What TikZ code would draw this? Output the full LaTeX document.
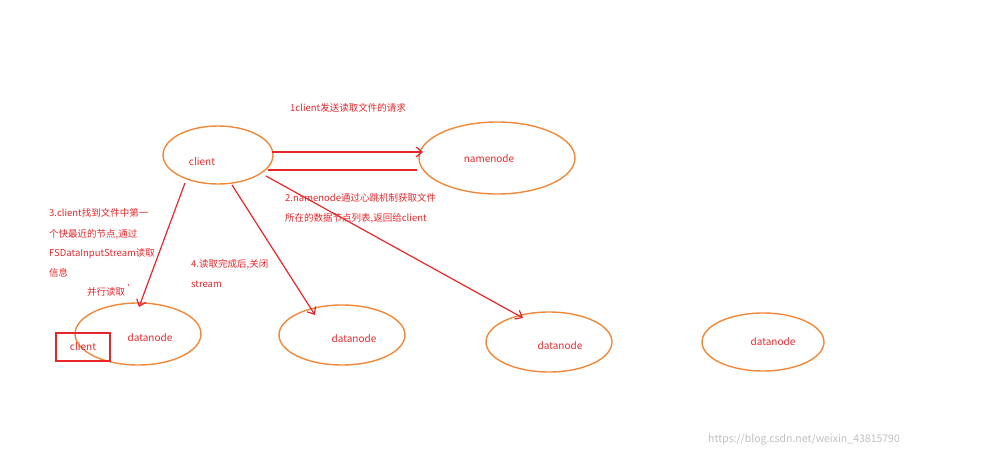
\documentclass[tikz,border=0pt]{standalone}
\usepackage{fontspec}
\setmainfont{Noto Sans CJK SC}
\usetikzlibrary{arrows.meta}
\definecolor{ored}{HTML}{E8262A}
\definecolor{oor}{HTML}{F0883A}
\tikzset{
  ell/.style={draw=oor,line width=1.4pt,ellipse},
  lbl/.style={text=ored,font=\fontsize{9.5}{11}\selectfont,anchor=west,inner sep=0pt},
  ntx/.style={text=ored,font=\fontsize{10}{12}\selectfont,inner sep=0pt},
  arr/.style={draw=ored,line width=1.2pt,-{Straight Barb[length=6pt,width=10pt]}},
  ln/.style={draw=ored,line width=1.4pt}
}
\begin{document}
\begin{tikzpicture}[x=1pt,y=-1pt]
\useasboundingbox (0,0) rectangle (990,458);
\draw[oor,line width=1.4pt] (218,155) ellipse (55 and 29);
\draw[oor,line width=1.4pt] (497,158) ellipse (78 and 36);
\draw[oor,line width=1.4pt] (138,334) ellipse (63 and 31);
\draw[oor,line width=1.4pt] (342,335) ellipse (63 and 30);
\draw[oor,line width=1.4pt] (549,342) ellipse (63 and 30);
\draw[oor,line width=1.4pt] (763,342) ellipse (61 and 29);
\node[ntx] (cl) at (202,162) {client};
\node[ntx] (nn) at (489,159) {namenode};
\node[ntx] (d1) at (150,338) {datanode};
\node[ntx] (d2) at (354,339) {datanode};
\node[ntx] (d3) at (560,346) {datanode};
\node[ntx] (d4) at (773,342) {datanode};
\node[draw=ored,line width=1.4pt,minimum width=54pt,minimum height=28pt,text=ored,font=\fontsize{10}{12}\selectfont] (cb) at (83,347) {client};
\coordinate (c1) at (272,152); \coordinate (n1) at (423,152);
\coordinate (n2) at (417,170); \coordinate (c2) at (268,170);
\coordinate (c3) at (266,176); \coordinate (d3t) at (523,318);
\coordinate (c4) at (185,183); \coordinate (d1t) at (139,307);
\coordinate (c5) at (232,185); \coordinate (d2t) at (315,315);
\draw[arr] (c1) -- (n1);
\draw[ln] (n2) -- (c2);
\draw[arr] (c3) -- (d3t);
\draw[arr] (c4) -- (d1t);
\draw[arr] (c5) -- (d2t);
\node[lbl] (t1) at (290,108) {1client发送读取文件的请求};
\node[lbl] (t2) at (285,198) {2.namenode通过心跳机制获取文件};
\node[lbl] (t2b) at (285,218) {所在的数据节点列表,返回给client};
\node[lbl] (t3) at (49,213) {3.client找到文件中第一};
\node[lbl] (t3b) at (49,234) {个快最近的节点,通过};
\node[lbl] (t3c) at (49,254) {FSDataInputStream读取};
\node[lbl] (t3d) at (49,273) {信息};
\node[lbl] (t5) at (87,290) {并行读取 \raisebox{3pt}{'}};
\node[lbl] (t4) at (191,264) {4.读取完成后,关闭};
\node[lbl] (t4b) at (191,284) {stream};
\node[anchor=west,inner sep=0pt,text=black!25,font=\fontsize{10.5}{12}\selectfont] (wm) at (708,440) {https://blog.csdn.net/weixin\_43815790};
\end{tikzpicture}
\end{document}
